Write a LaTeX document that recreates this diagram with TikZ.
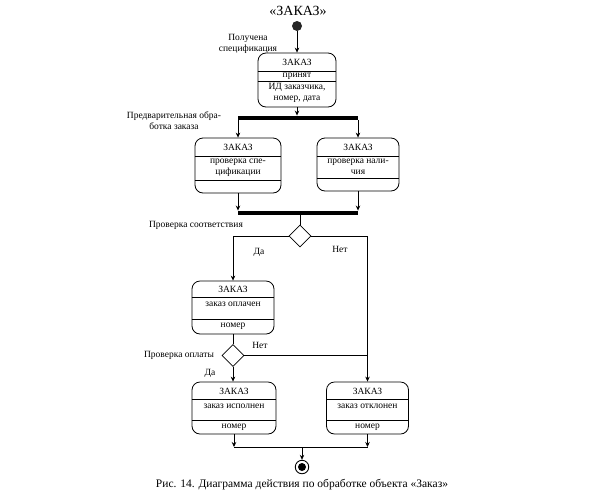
\documentclass[tikz,border=0pt]{standalone}
\usepackage{fontspec}
\setmainfont{Liberation Serif}
\usetikzlibrary{shapes.geometric,arrows.meta}
\begin{document}
\begin{tikzpicture}[x=1pt,y=-1pt,
  stbox/.style={draw, rounded corners=8pt, line width=0.8pt, inner sep=0},
  txt/.style={font=\fontsize{9.5}{10.5}\selectfont, inner sep=0, align=center},
  lbl/.style={font=\fontsize{9.5}{10.5}\selectfont, inner sep=0, align=center},
  barnode/.style={fill=black, inner sep=0, minimum width=120pt, minimum height=4.5pt},
  decision/.style={draw, diamond, line width=0.7pt, inner sep=0, minimum size=22pt},
  arr/.style={-{Stealth[length=5pt,width=4.5pt]}, line width=0.7pt},
  ln/.style={line width=0.7pt},
  divl/.style={line width=0.7pt}]
\useasboundingbox (0,0) rectangle (591,496);

% title and initial state
\node[font=\fontsize{14}{16}\selectfont, inner sep=0] (title) at (298,11) {«ЗАКАЗ»};
\node[circle, fill=black!85, minimum size=10pt, inner sep=0] (init) at (297,26) {};

% box 1
\node[stbox, minimum width=78pt, minimum height=54pt] (b1) at (297,80) {};
\draw[divl] (b1.west |- 0,71) -- (b1.east |- 0,71);
\draw[divl] (b1.west |- 0,81) -- (b1.east |- 0,81);
\node[txt] (b1n) at (297,62) {ЗАКАЗ};
\node[txt] (b1s) at (297,76) {принят};
\node[txt] (b1a) at (297,93) {ИД заказчика,\\номер, дата};

% fork bar
\node[barnode] (bar1) at (298,118) {};

% box 2
\node[stbox, minimum width=86pt, minimum height=55pt] (b2) at (238,165.5) {};
\draw[divl] (b2.west |- 0,156) -- (b2.east |- 0,156);
\draw[divl] (b2.west |- 0,180) -- (b2.east |- 0,180);
\node[txt] (b2n) at (238,147) {ЗАКАЗ};
\node[txt] (b2s) at (238,168) {проверка спе-\\цификации};

% box 3
\node[stbox, minimum width=82pt, minimum height=53pt] (b3) at (358,164.5) {};
\draw[divl] (b3.west |- 0,156) -- (b3.east |- 0,156);
\draw[divl] (b3.west |- 0,178) -- (b3.east |- 0,178);
\node[txt] (b3n) at (358,147) {ЗАКАЗ};
\node[txt] (b3s) at (358,167) {проверка нали-\\чия};

% join bar
\node[barnode] (bar2) at (298,213) {};

% decision 1
\node[decision] (d1) at (300,236) {};

% box 4
\node[stbox, minimum width=82pt, minimum height=53pt] (b4) at (233,307.5) {};
\draw[divl] (b4.west |- 0,297) -- (b4.east |- 0,297);
\draw[divl] (b4.west |- 0,319) -- (b4.east |- 0,319);
\node[txt] (b4n) at (233,289) {ЗАКАЗ};
\node[txt] (b4s) at (233,304) {заказ оплачен};
\node[txt] (b4a) at (233,326.5) {номер};

% decision 2
\node[decision] (d2) at (233,355.5) {};

% box 5
\node[stbox, minimum width=84pt, minimum height=52pt] (b5) at (234,408) {};
\draw[divl] (b5.west |- 0,399) -- (b5.east |- 0,399);
\draw[divl] (b5.west |- 0,420) -- (b5.east |- 0,420);
\node[txt] (b5n) at (234,391) {ЗАКАЗ};
\node[txt] (b5s) at (234,406) {заказ исполнен};
\node[txt] (b5a) at (234,427) {номер};

% box 6
\node[stbox, minimum width=82pt, minimum height=52pt] (b6) at (367.5,408) {};
\draw[divl] (b6.west |- 0,399) -- (b6.east |- 0,399);
\draw[divl] (b6.west |- 0,420) -- (b6.east |- 0,420);
\node[txt] (b6n) at (367.5,391) {ЗАКАЗ};
\node[txt] (b6s) at (367.5,406) {заказ отклонен};
\node[txt] (b6a) at (367.5,427) {номер};

% final state
\node[circle, draw, line width=0.9pt, minimum size=13.5pt, inner sep=0] (fin) at (302,467) {};
\node[circle, fill=black, minimum size=8pt, inner sep=0] (finin) at (fin) {};
\coordinate (mm) at (302,447);

% labels
\node[lbl] (l1) at (248,44) {Получена\\спецификация};
\node[lbl] (l2) at (174,120.5) {Предварительная обра-\\ботка заказа};
\node[lbl] (l3) at (196,225) {Проверка соответствия};
\node[lbl] (l4) at (259,252) {Да};
\node[lbl] (l5) at (340,249) {Нет};
\node[lbl] (l6) at (179,355) {Проверка оплаты};
\node[lbl] (l7) at (260,345) {Нет};
\node[lbl] (l8) at (210,373) {Да};

% caption
\node[font=\fontsize{11.5}{13}\selectfont, inner sep=0] (cap) at (302,485) {Рис. 14. Диаграмма действия по обработке объекта «Заказ»};

% connectors
\draw[arr] (init.south) -- (init.south |- b1.north);
\draw[arr] (b1.south) -- (b1.south |- bar1.north);
\draw[arr] (bar1.south -| b2.north) -- (b2.north);
\draw[arr] (bar1.south -| b3.north) -- (b3.north);
\draw[arr] (b2.south) -- (b2.south |- bar2.north);
\draw[arr] (b3.south) -- (b3.south |- bar2.north);
\draw[ln] (bar2.south -| d1.north) -- (d1.north);
\draw[arr] (d1.west) -| (b4.north);
\draw[arr] (d1.east) -| (b6.north);
\draw[ln] (b4.south) -- (d2.north);
\draw[ln] (d2.east) -- (d2.east -| b6.north);
\draw[arr] (d2.south) -- (d2.south |- b5.north);
\draw[arr] (b5.south) -- (b5.south |- mm);
\draw[arr] (b6.south) -- (b6.south |- mm);
\draw[ln] (b5.south |- mm) -- (b6.south |- mm);
\draw[arr] (mm) -- (fin.north);
\end{tikzpicture}
\end{document}
